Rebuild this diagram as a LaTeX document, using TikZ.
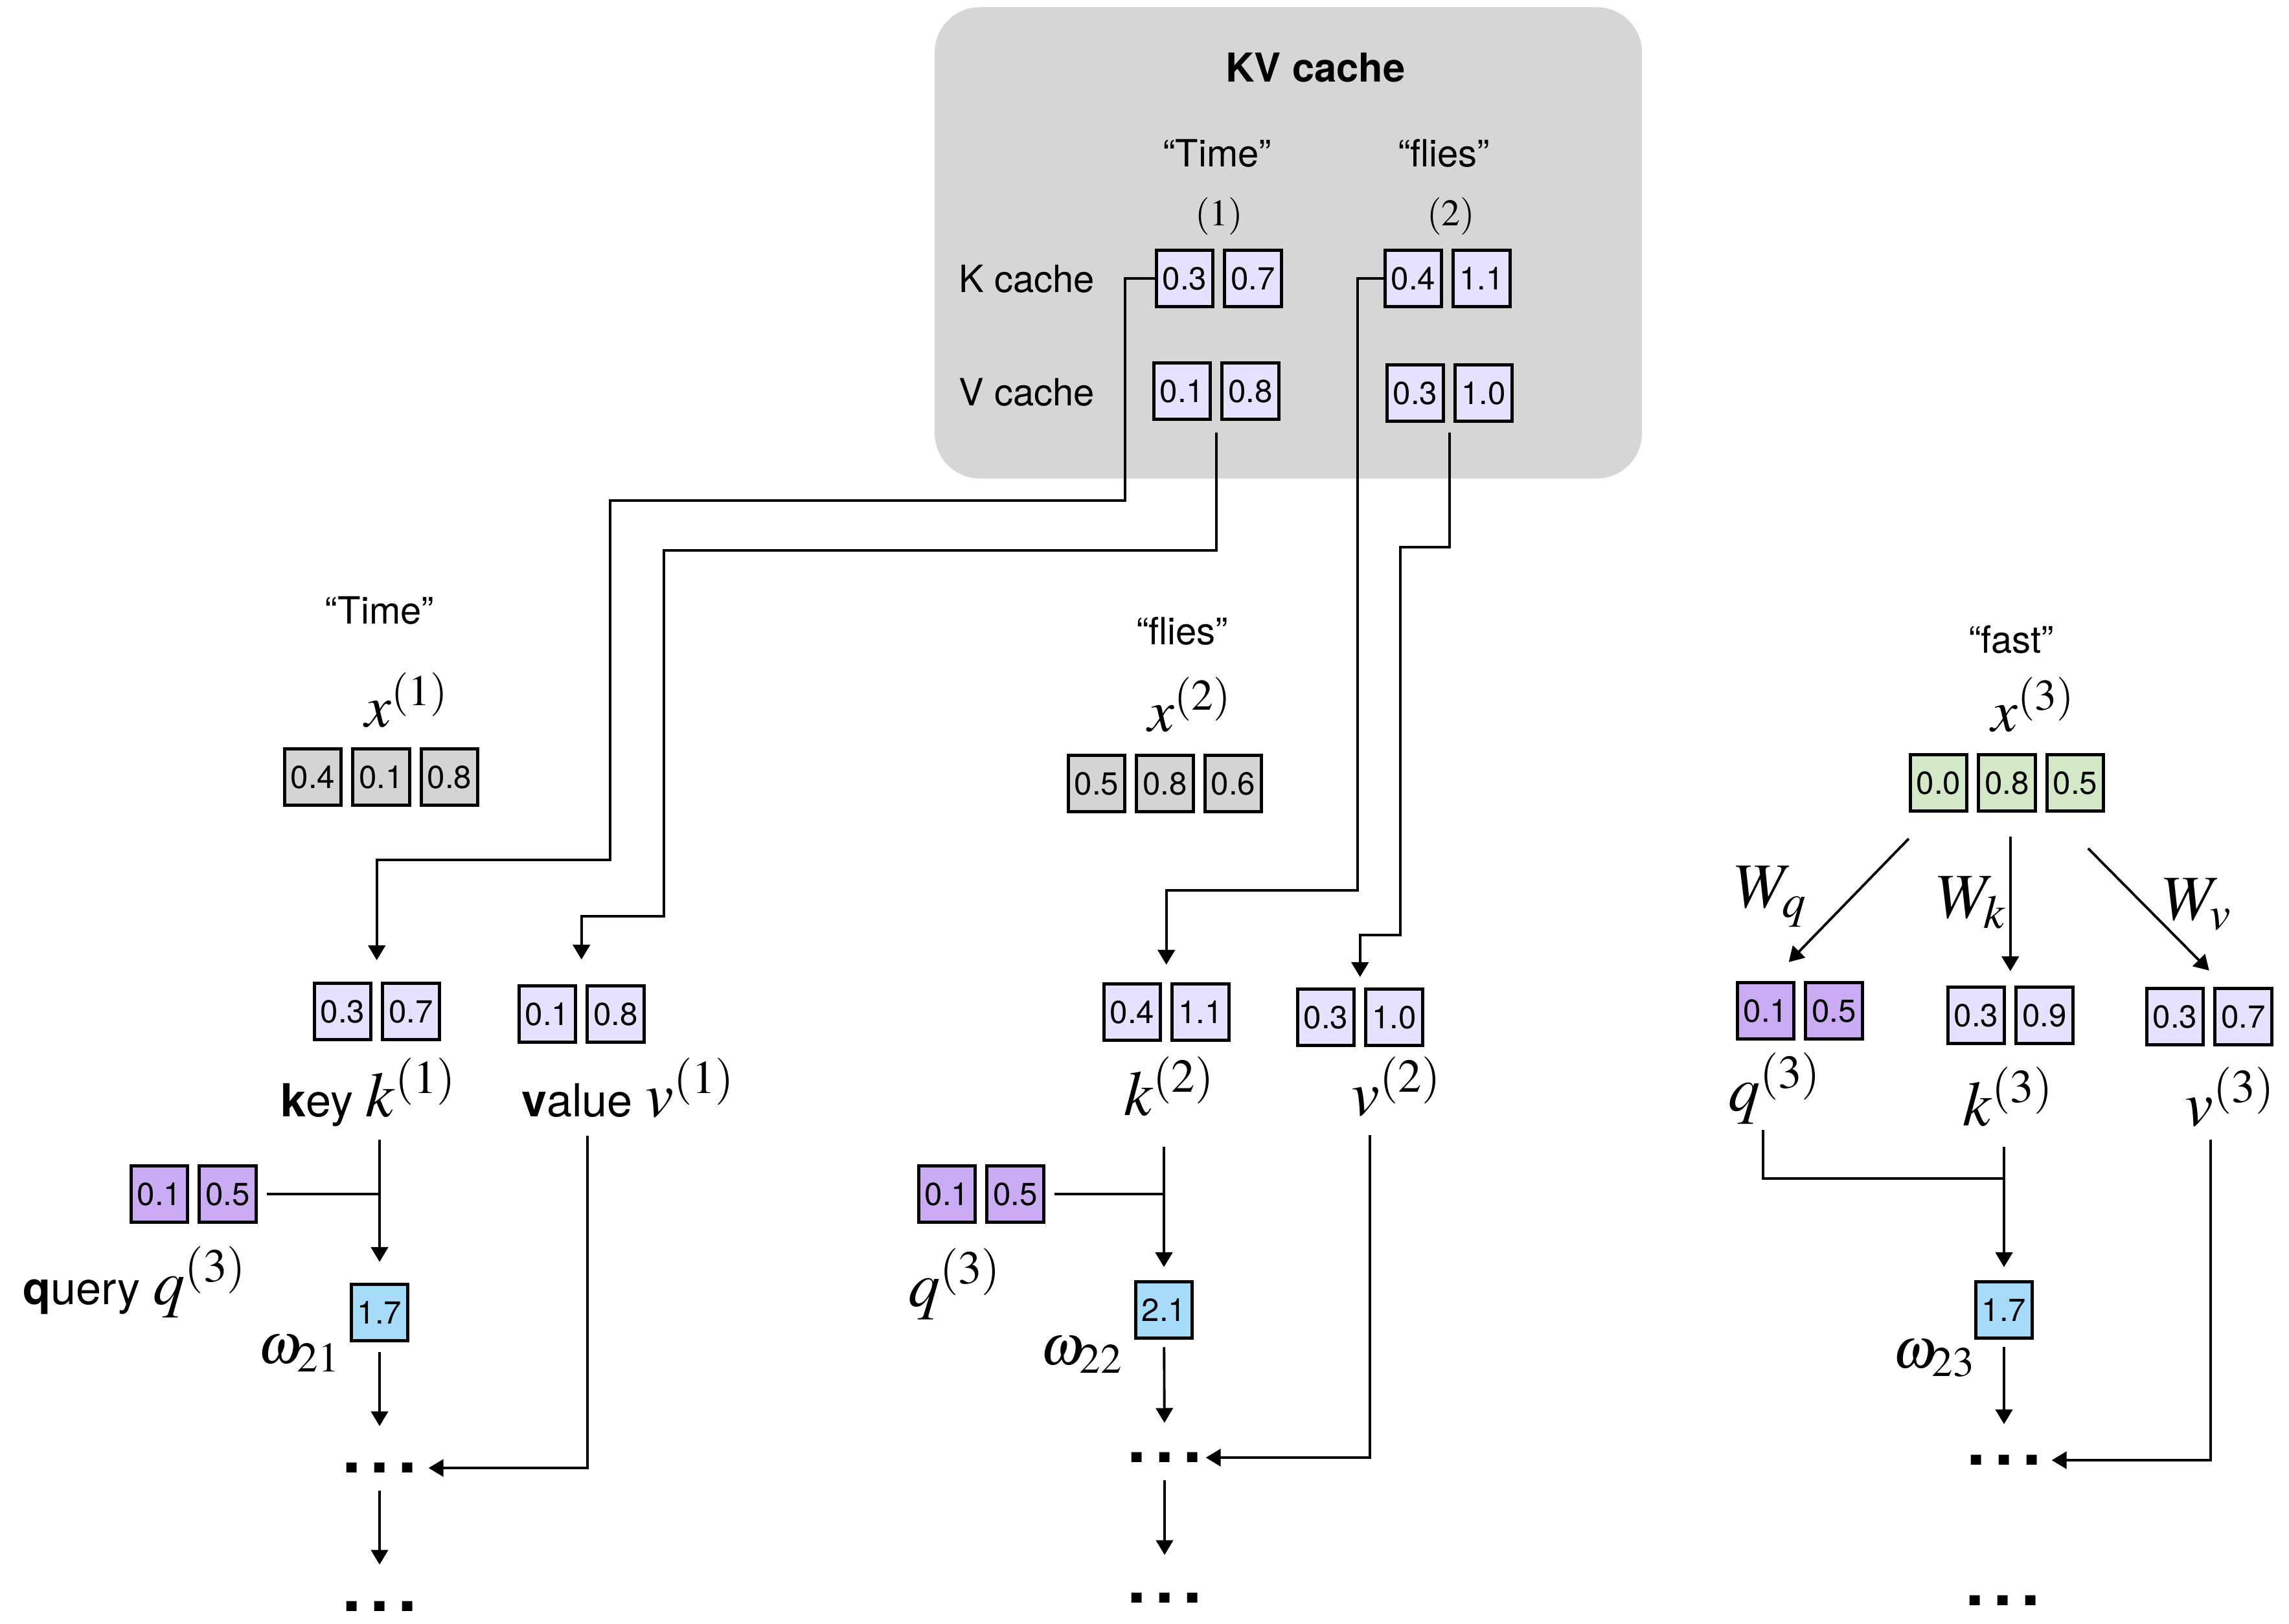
\documentclass[tikz,border=0pt]{standalone}
\usepackage{mathptmx}
\usepackage[no-math]{fontspec}
\setmainfont{TeX Gyre Heros}
\usepackage{tikz}
\usetikzlibrary{arrows.meta,positioning,fit}
\definecolor{cacheGray}{HTML}{D6D6D6}
\definecolor{inGray}{HTML}{D4D4D4}
\definecolor{kvLilac}{HTML}{E5E1FE}
\definecolor{qPurple}{HTML}{CBACF4}
\definecolor{inGreen}{HTML}{D3E8C6}
\definecolor{wBlue}{HTML}{A6DBFA}
\tikzset{
  cell/.style={draw, line width=1.4pt, minimum width=8.75mm, minimum height=8.75mm, inner sep=0pt, font=\fontsize{14}{16}\selectfont},
  cx/.style={cell, fill=inGray},
  ck/.style={cell, fill=kvLilac},
  cq/.style={cell, fill=qPurple},
  cg/.style={cell, fill=inGreen},
  cw/.style={cell, fill=wBlue},
  pair/.style={inner sep=0pt, outer sep=0pt},
  lbl/.style={font=\fontsize{16.5}{19}\selectfont, inner sep=0pt},
  mth/.style={font=\fontsize{28}{32}\selectfont, inner sep=0pt},
  xin/.style={mth, font=\fontsize{26}{30}\selectfont},
  omg/.style={font=\fontsize{25}{28}\selectfont, inner sep=0pt},
  role/.style={font=\fontsize{20}{23}\selectfont, inner sep=0pt, anchor=base},
  cachebox/.style={fill=cacheGray, rounded corners=7mm},
  dots/.style={font=\fontsize{30}{30}\selectfont\bfseries, minimum width=10mm, minimum height=6mm, inner sep=0pt},
  line/.style={line width=1.1pt},
  arr/.style={line, -{Triangle[length=6.5pt,width=7.5pt]}}
}
\begin{document}
\begin{tikzpicture}[x=1cm,y=1cm]
\useasboundingbox (0,0) rectangle (35.34,-25.07);
% KV cache
\node[cachebox, minimum width=109.2mm, minimum height=72.8mm] (cache) at (19.89,-3.75) {};
\node[lbl, font=\fontsize{17.5}{20}\selectfont\bfseries] (kvt) at (20.31,-1.04) {KV cache};
\node[lbl] (ct1) at (18.79,-2.37) {“Time”};
\node[lbl] (ct2) at (22.29,-2.37) {“flies”};
\node[lbl] (cn1) at (18.82,-3.34) {$(1)$};
\node[lbl] (cn2) at (22.40,-3.34) {$(2)$};
\node[lbl] (kcl) at (15.85,-4.31) {K cache};
\node[lbl] (vcl) at (15.85,-6.06) {V cache};
\node[ck] (ck1a) at (18.29,-4.30) {0.3};
\node[ck, right=1.3mm of ck1a] (ck1b) {0.7};
\node[ck] (ck2a) at (21.82,-4.30) {0.4};
\node[ck, right=1.3mm of ck2a] (ck2b) {1.1};
\node[ck] (cv1a) at (18.25,-6.04) {0.1};
\node[ck, right=1.3mm of cv1a] (cv1b) {0.8};
\node[ck] (cv2a) at (21.85,-6.07) {0.3};
\node[ck, right=1.3mm of cv2a] (cv2b) {1.0};
\node[pair, fit=(ck1a)(ck1b)] (ck1) {};
\node[pair, fit=(ck2a)(ck2b)] (ck2) {};
\node[pair, fit=(cv1a)(cv1b)] (cv1) {};
\node[pair, fit=(cv2a)(cv2b)] (cv2) {};

% token 1
\node[lbl] (tok1) at (5.86,-9.43) {“Time”};
\node[xin] (xl1) at (6.28,-10.81) {$x^{(1)}$};
\node[cx] (x1a) at (4.83,-12.00) {0.4};
\node[cx, right=1.3mm of x1a] (x1b) {0.1};
\node[cx, right=1.3mm of x1b] (x1c) {0.8};
\node[ck] (k1a) at (5.29,-15.62) {0.3};
\node[ck, right=1.3mm of k1a] (k1b) {0.7};
\node[ck] (v1a) at (8.45,-15.66) {0.1};
\node[ck, right=1.3mm of v1a] (v1b) {0.8};
\node[pair, fit=(k1a)(k1b)] (k1) {};
\node[pair, fit=(v1a)(v1b)] (v1) {};
\node[role] (kl1) at (5.69,-17.24) {\textbf{k}ey {\fontsize{28}{32}\selectfont$k^{(1)}$}};
\node[role] (vl1) at (9.70,-17.24) {\textbf{v}alue {\fontsize{28}{32}\selectfont$v^{(1)}$}};
\node[cq] (q1a) at (2.46,-18.44) {0.1};
\node[cq, right=1.3mm of q1a] (q1b) {0.5};
\node[pair, fit=(q1a)(q1b)] (q1) {};
\node[role, anchor=center] (ql1) at (2.08,-19.80) {\textbf{q}uery {\fontsize{28}{32}\selectfont$q^{(3)}$}};
\node[cw] (w1) at (5.86,-20.27) {1.7};
\node[omg] (om1) at (4.62,-20.90) {$\omega_{21}$};
\node[dots] (d1) at (5.86,-22.67) {.\kern1.4mm.\kern1.4mm.};
\node[dots] (e1) at (5.86,-24.81) {.\kern1.4mm.\kern1.4mm.};

% token 2
\node[lbl] (tok2) at (18.25,-9.75) {“flies”};
\node[xin] (xl2) at (18.37,-10.88) {$x^{(2)}$};
\node[cx] (x2a) at (16.93,-12.10) {0.5};
\node[cx, right=1.3mm of x2a] (x2b) {0.8};
\node[cx, right=1.3mm of x2b] (x2c) {0.6};
\node[ck] (k2a) at (17.48,-15.63) {0.4};
\node[ck, right=1.3mm of k2a] (k2b) {1.1};
\node[ck] (v2a) at (20.47,-15.71) {0.3};
\node[ck, right=1.3mm of v2a] (v2b) {1.0};
\node[pair, fit=(k2a)(k2b)] (k2) {};
\node[pair, fit=(v2a)(v2b)] (v2) {};
\node[mth, anchor=base] (kl2) at (18.05,-17.22) {$k^{(2)}$};
\node[mth, anchor=base] (vl2) at (21.56,-17.22) {$v^{(2)}$};
\node[cq] (q2a) at (14.62,-18.44) {0.1};
\node[cq, right=1.3mm of q2a] (q2b) {0.5};
\node[pair, fit=(q2a)(q2b)] (q2) {};
\node[mth] (ql2) at (14.74,-19.83) {$q^{(3)}$};
\node[cw] (w2) at (17.97,-20.23) {2.1};
\node[omg] (om2) at (16.70,-20.92) {$\omega_{22}$};
\node[dots] (d2) at (17.98,-22.51) {.\kern1.4mm.\kern1.4mm.};
\node[dots] (e2) at (17.98,-24.68) {.\kern1.4mm.\kern1.4mm.};

% token 3
\node[lbl] (tok3) at (31.05,-9.88) {“fast”};
\node[xin] (xl3) at (31.39,-10.88) {$x^{(3)}$};
\node[cg] (x3a) at (29.93,-12.09) {0.0};
\node[cg, right=1.3mm of x3a] (x3b) {0.8};
\node[cg, right=1.3mm of x3b] (x3c) {0.5};
\node[cq] (q3a) at (27.26,-15.61) {0.1};
\node[cq, right=1.3mm of q3a] (q3b) {0.5};
\node[ck] (k3a) at (30.51,-15.68) {0.3};
\node[ck, right=1.3mm of k3a] (k3b) {0.9};
\node[ck] (v3a) at (33.58,-15.70) {0.3};
\node[ck, right=1.3mm of v3a] (v3b) {0.7};
\node[pair, fit=(q3a)(q3b)] (q3) {};
\node[pair, fit=(k3a)(k3b)] (k3) {};
\node[pair, fit=(v3a)(v3b)] (v3) {};
\node[mth] (wq) at (27.34,-13.85) {$W_q$};
\node[mth] (wk) at (30.44,-13.94) {$W_k$};
\node[mth] (wv) at (33.92,-13.97) {$W_v$};
\node[mth] (ql3) at (27.40,-16.81) {$q^{(3)}$};
\node[mth] (kl3) at (31.00,-16.94) {$k^{(3)}$};
\node[mth] (vl3) at (34.43,-16.94) {$v^{(3)}$};
\node[cw] (w3) at (30.94,-20.23) {1.7};
\node[omg] (om3) at (29.86,-20.98) {$\omega_{23}$};
\node[dots] (d3) at (30.94,-22.55) {.\kern1.4mm.\kern1.4mm.};
\node[dots] (e3) at (30.92,-24.72) {.\kern1.4mm.\kern1.4mm.};

\coordinate (ks1) at (5.86,-17.60);
\coordinate (vs1) at (9.07,-17.54);
\coordinate (ks2) at (17.97,-17.71);
\coordinate (vs2) at (21.15,-17.53);
\coordinate (qs3) at (27.22,-17.45);
\coordinate (ks3) at (30.94,-17.71);
\coordinate (vs3) at (34.13,-17.60);

% cache lookups
\draw[arr, shorten >=3.3mm] (ck1) -| (17.37,-7.73) -| (9.42,-13.28) -| (k1);
\draw[arr, shorten <=1.8mm, shorten >=3.8mm] (cv1) |- (10.25,-8.50) -- (10.25,-14.15) -| (v1);
\draw[arr, shorten >=2.7mm] (ck2) -| (20.96,-13.75) -| (k2);
\draw[arr, shorten <=1.5mm, shorten >=1.6mm] (cv2) |- (21.62,-8.45) -- (21.62,-14.44) -| (v2);

\draw[arr, shorten >=3.2mm] (ks1) -- (w1); \draw[line, shorten <=1.4mm] (q1) -- (q1 -| ks1);
\draw[arr, shorten <=1.5mm, shorten >=3.4mm] (w1) -- (d1); \draw[arr, shorten >=1.7mm] (vs1) |- (d1);
\draw[arr, shorten <=0.4mm, shorten >=3.4mm] (d1) -- (e1);

\draw[arr, shorten >=2mm] (ks2) -- (w2); \draw[line, shorten <=1.4mm] (q2) -- (q2 -| ks2);
\draw[arr, shorten <=1.1mm, shorten >=2.3mm] (w2) -- (d2); \draw[arr, shorten >=0.5mm] (vs2) |- (d2);
\draw[arr, shorten <=0.4mm, shorten >=3.6mm] (d2) -- (e2);

\draw[arr] ([yshift=-4mm]x3a.south west) -- ([xshift=-1.7mm,yshift=2.9mm]q3.north);
\draw[arr, shorten <=3.7mm, shorten >=2.2mm] (k3.north |- x3b.south) -- (k3.north);
\draw[arr] ([xshift=2mm,yshift=-5.5mm]x3c.south) -- ([yshift=2.5mm]v3.north);
\draw[line] (qs3) |- ([yshift=-4.9mm]ks3);
\draw[arr, shorten >=2mm] (ks3) -- (w3);
\draw[arr, shorten <=1.1mm, shorten >=2.5mm] (w3) -- (d3); \draw[arr, shorten >=1.5mm] (vs3) |- (d3);
\end{tikzpicture}
\end{document}
